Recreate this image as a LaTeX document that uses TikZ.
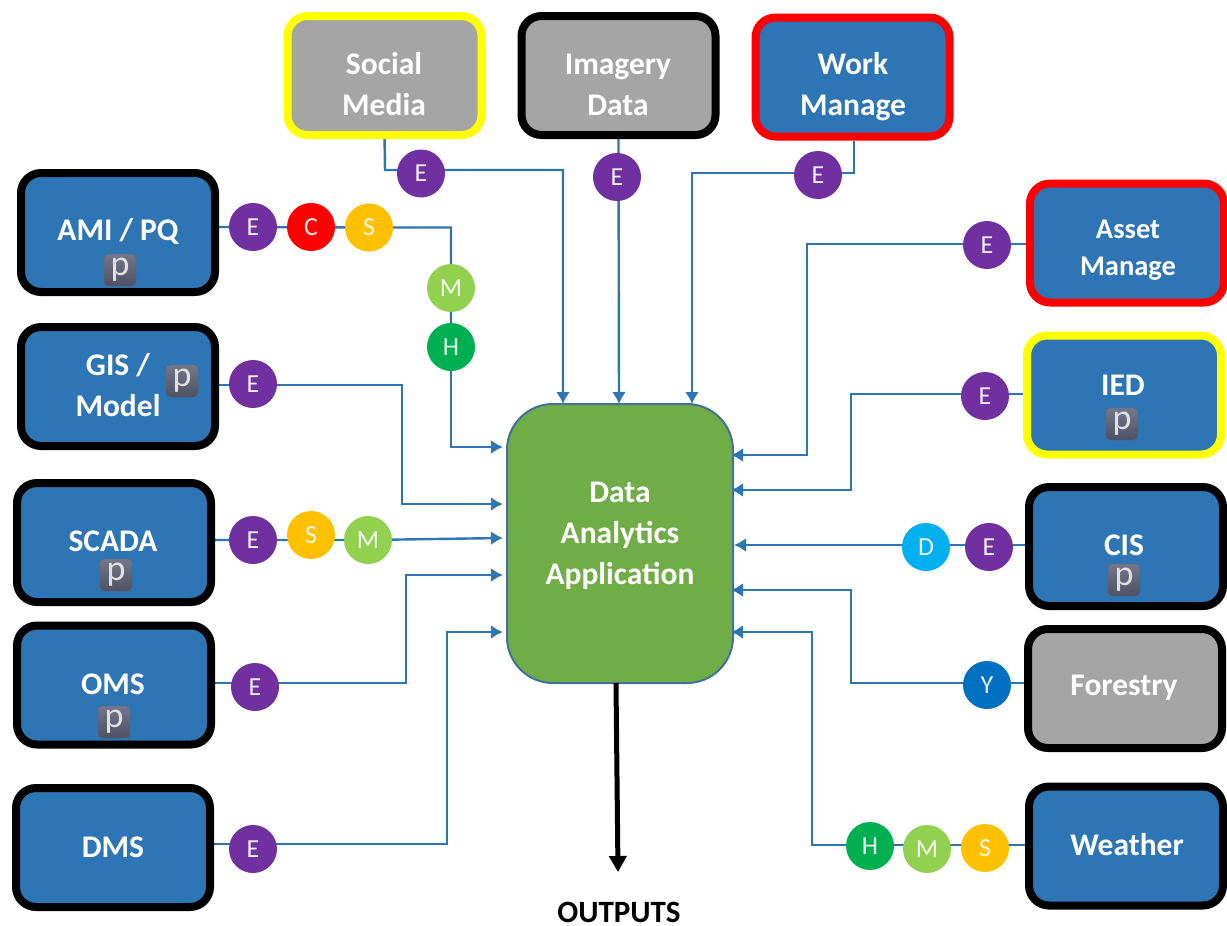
\documentclass[tikz,border=0pt]{standalone}
\usepackage{fontspec}
\setmainfont{Carlito}
\usetikzlibrary{arrows.meta,backgrounds}
\definecolor{boxblue}{HTML}{2E75B6}
\definecolor{boxgray}{HTML}{A5A5A5}
\definecolor{appgreen}{HTML}{70AD47}
\definecolor{appedge}{HTML}{41719C}
\definecolor{cE}{HTML}{7030A0}
\definecolor{cC}{HTML}{FF0000}
\definecolor{cS}{HTML}{FFC000}
\definecolor{cM}{HTML}{92D050}
\definecolor{cH}{HTML}{00B050}
\definecolor{cD}{HTML}{00B0F0}
\definecolor{cY}{HTML}{0070C0}
\definecolor{cYel}{HTML}{FFFF00}
\definecolor{badgetop}{HTML}{74768A}
\definecolor{badgebot}{HTML}{4E5064}
\tikzset{
 srcbox/.style={draw=black,fill=boxblue,line width=8pt,rounded corners=20pt,minimum width=194pt,minimum height=119pt,inner sep=0pt,outer sep=0pt},
 greybox/.style={srcbox,fill=boxgray},
 blk/.style={draw=black},
 ylw/.style={draw=cYel},
 rd/.style={draw=cC},
 lbl/.style={text=white,font=\fontsize{31.5}{41}\selectfont\bfseries,align=center,inner sep=0pt},
 lblsmall/.style={text=white,font=\fontsize{28.5}{37}\selectfont\bfseries,align=center,inner sep=0pt},
 circ/.style={circle,fill=#1,minimum size=48pt,inner sep=0pt,outer sep=0pt,text=white!92!#1,font=\fontsize{26}{28}\selectfont},
 badge/.style={rounded corners=4pt,top color=badgetop,bottom color=badgebot,minimum size=32pt,inner sep=0pt,text=white!88!black,font=\fontsize{36}{36}\selectfont,draw=black!60,line width=.4pt},
 conn/.style={draw=boxblue,line width=2.4pt},
 arr/.style={conn,-{Latex[length=12pt,width=14pt]}},
 outarrow/.style={draw=black,line width=5pt,-{Triangle[length=16pt,width=17pt]}},
}
\begin{document}
\begin{tikzpicture}[x=1pt,y=-1pt]
\useasboundingbox (0,0) rectangle (1227,926);
% boxes
\node[greybox,ylw] (social) at (384.5,75.5) {};
\node[greybox,blk] (imagery) at (618.5,75.5) {};
\node[srcbox,rd] (work) at (852.5,77) {};
\node[srcbox] (ami) at (118,232.5) {};
\node[srcbox] (gis) at (118,386.5) {};
\node[srcbox] (scada) at (114,542.5) {};
\node[srcbox] (oms) at (114,685) {};
\node[srcbox] (dms) at (113,847.5) {};
\node[srcbox,rd] (asset) at (1127,243) {};
\node[srcbox,ylw] (ied) at (1124,395) {};
\node[srcbox] (cis) at (1126,546.5) {};
\node[greybox,blk] (forestry) at (1125,688.5) {};
\node[srcbox] (weather) at (1126,846) {};
% application
\node[draw=appedge,fill=appgreen,line width=2pt,rounded corners=46pt,minimum width=226pt,minimum height=279pt,outer sep=0pt] (app) at (620,543.5) {};
% labels
\node[lbl] (tsocial) at (384,84.5) {Social\\Media};
\node[lbl] (timagery) at (618,84.5) {Imagery\\Data};
\node[lbl] (twork) at (853,86.5) {Work\\Manage};
\node[lbl] (tami) at (118,231) {AMI / PQ};
\node[lbl] (tgis) at (118,385.5) {GIS /\\Model};
\node[lbl] (tscada) at (113,541) {SCADA};
\node[lbl] (toms) at (113,684) {OMS};
\node[lbl] (tdms) at (113,847) {DMS};
\node[lblsmall] (tasset) at (1128,250.5) {Asset\\Manage};
\node[lbl] (tied) at (1123,385) {IED};
\node[lbl] (tcis) at (1124,545) {CIS};
\node[lbl] (tforestry) at (1124,688) {Forestry};
\node[lbl] (tweather) at (1127,845) {Weather};
\node[lbl] (tapp) at (620,536) {Data\\Analytics\\Application};
\node[lbl,text=black,font=\fontsize{31}{34}\selectfont\bfseries] (toutputs) at (619,912) {OUTPUTS};
% p badges
\node[badge] (pami) at (120,270) {p};
\node[badge] (pgis) at (182,381) {p};
\node[badge] (pscada) at (116,575) {p};
\node[badge] (poms) at (114,722) {p};
\node[badge] (pied) at (1122,424) {p};
\node[badge] (pcis) at (1124,580) {p};
% badges on connectors
\node[circ=cE] (esoc) at (421,173.5) {E};
\node[circ=cE] (eima) at (617,177) {E};
\node[circ=cE] (ewrk) at (818,175) {E};
\node[circ=cE] (eami) at (253,227) {E};
\node[circ=cC] (cami) at (311,227) {C};
\node[circ=cS] (sami) at (369,227.5) {S};
\node[circ=cM] (mami) at (451,288) {M};
\node[circ=cH] (hami) at (451,347) {H};
\node[circ=cE] (egis) at (253,384) {E};
\node[circ=cE] (esca) at (253,540) {E};
\node[circ=cS] (ssca) at (311,535) {S};
\node[circ=cM] (msca) at (368,540) {M};
\node[circ=cE] (eoms) at (255,687) {E};
\node[circ=cE] (edms) at (253,849) {E};
\node[circ=cE] (eass) at (987,245) {E};
\node[circ=cE] (eied) at (985,396) {E};
\node[circ=cD] (dcis) at (926,547) {D};
\node[circ=cE] (ecis) at (989,547) {E};
\node[circ=cY] (yfor) at (987,685) {Y};
\node[circ=cH] (hwea) at (870,846) {H};
\node[circ=cM] (mwea) at (927,849) {M};
\node[circ=cS] (swea) at (985,848) {S};
% connector end points and bends
\coordinate (in1) at (563,404);
\coordinate (in2) at (619,404);
\coordinate (in3) at (692,404);
\coordinate (inL1) at (503,447);
\coordinate (inL2) at (503,504);
\coordinate (inL3) at (503,538);
\coordinate (inL4) at (503,575);
\coordinate (inL5) at (503,632);
\coordinate (inR1) at (731,455);
\coordinate (inR2) at (731,490);
\coordinate (inR3) at (734,545);
\coordinate (inR4) at (731,590);
\coordinate (inR5) at (731,632);
\coordinate (outEnd) at (618,872);
\coordinate (appOut) at (616,683);
\coordinate (bsoc) at (385,170);
\coordinate (bwrk) at (854,173);
\coordinate (bgis) at (402,385);
\coordinate (boms) at (406,683);
\coordinate (bdms) at (447,844);
\coordinate (bass) at (807,244);
\coordinate (bied) at (851,394);
\coordinate (bfor) at (851,683);
\coordinate (bwea) at (812,845);
\coordinate (wsrc) at (854,141);
\begin{scope}[on background layer]
\draw[arr] (social.south) -- (bsoc) -| (in1);
\draw[arr] (imagery.south) -- (in2);
\draw[arr] (wsrc) -- (bwrk) -| (in3);
\draw[conn] (ami.east |- eami) -- (sami.center) -- (sami.center -| mami) -- (hami.center);
\draw[arr] (hami.center) |- (inL1);
\draw[arr] (gis.east |- bgis) -- (bgis) |- (inL2);
\draw[arr] (scada.east |- esca) -- (msca.center) -- (inL3);
\draw[arr] (oms.east |- boms) -- (boms) |- (inL4);
\draw[arr] (dms.east |- bdms) -- (bdms) |- (inL5);
\draw[arr] (asset.west |- bass) -- (bass) |- (inR1);
\draw[arr] (ied.west |- bied) -- (bied) |- (inR2);
\draw[arr] (cis.west |- inR3) -- (inR3);
\draw[arr] (forestry.west |- bfor) -- (bfor) |- (inR4);
\draw[arr] (weather.west |- bwea) -- (bwea) |- (inR5);
\end{scope}
\draw[outarrow] (appOut) -- (outEnd);
\end{tikzpicture}
\end{document}
